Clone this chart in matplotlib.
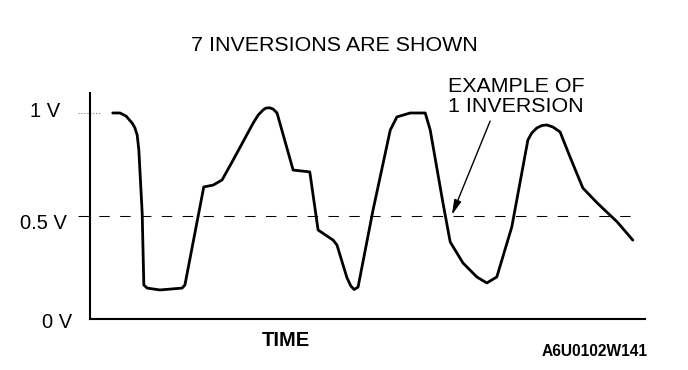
import matplotlib
matplotlib.use("Agg")
import matplotlib.pyplot as plt

# Oxygen sensor trace (time in arbitrary units 0-100, volts)
time = [4.1, 5.4, 6.5, 7.6, 8.1, 8.5, 8.8, 9.4, 9.7, 10.3, 12.6, 16.6, 17.1,
        20.5, 22.2, 23.8, 25.8, 29.4, 30.3, 31.2, 31.7, 32.4, 33.0, 33.7,
        36.6, 39.6, 41.1, 43.8, 44.5, 46.3, 47.0, 47.6, 48.3, 51.0, 54.1,
        55.3, 57.7, 60.4, 61.3, 63.6, 64.9, 67.2, 69.7, 71.5, 73.3, 76.0,
        78.9, 79.6, 80.5, 81.4, 82.3, 83.4, 84.7, 86.5, 88.8, 91.4, 95.0,
        97.8]
volts = [1.0, 1.0, 0.985, 0.951, 0.927, 0.893, 0.820, 0.515, 0.165, 0.150,
         0.141, 0.150, 0.165, 0.641, 0.650, 0.675, 0.772, 0.951, 0.990, 1.015,
         1.024, 1.025, 1.019, 1.0, 0.723, 0.714, 0.432, 0.383, 0.359, 0.200,
         0.160, 0.143, 0.155, 0.529, 0.917, 0.981, 1.0, 1.0, 0.917, 0.563,
         0.374, 0.272, 0.204, 0.175, 0.204, 0.447, 0.869, 0.903, 0.927, 0.939,
         0.942, 0.932, 0.908, 0.786, 0.636, 0.563, 0.471, 0.383]

level_values = [1.0, 0.5, 0.0]
level_labels = ["1 V", "0.5 V", "0 V"]

title_text = "7 INVERSIONS ARE SHOWN"
note_lines = ["EXAMPLE OF", "1 INVERSION"]
arrow_tail = (72.1, 0.961)
arrow_head = (65.2, 0.505)
fig_code = "A6U0102W141"

plt.rcParams['font.family'] = ['Liberation Sans', 'DejaVu Sans']

fig = plt.figure(figsize=(6.88, 3.70), dpi=100)
ax = fig.add_axes([90 / 688, 51 / 370, 555 / 688, 226 / 370])
ax.set_xlim(0, 100)
ax.set_ylim(0, 1.097)

for side in ['top', 'right']:
    ax.spines[side].set_visible(False)
for side in ['left', 'bottom']:
    ax.spines[side].set_linewidth(1.5)
    ax.spines[side].set_color('black')
ax.set_xticks([])
ax.set_yticks([])

# reference lines
ax.plot([-2.2, 99.1], [0.5, 0.5], color='black', lw=0.75,
        linestyle=(0, (10, 10)), clip_on=False)
ax.plot([-2.2, 1.8], [1.0, 1.0], color='gray', lw=0.8,
        linestyle=':', clip_on=False)

# signal
ax.plot(time, volts, color='black', lw=2.0, solid_joinstyle='round',
        solid_capstyle='round')

# level labels on the left
label_x = [-5.4, -4.1, -3.2]
label_y = [0.981, 0.437, -0.044]
for lx, ly, txt in zip(label_x, label_y, level_labels):
    ax.text(lx, ly, txt, ha='right', va='baseline', fontsize=14.5,
            clip_on=False)

ax.text(35.3, -0.131, "TIME", ha='center', va='baseline', fontsize=14.5,
        fontweight='bold', clip_on=False)
ax.text(44.0, 1.301, title_text, ha='center', va='baseline', fontsize=15.4,
        clip_on=False)
ax.text(64.5, 1.102, note_lines[0], ha='left', va='baseline', fontsize=15.4,
        clip_on=False)
ax.text(64.5, 1.005, note_lines[1], ha='left', va='baseline', fontsize=15.4,
        clip_on=False)
ax.text(91.0, -0.180, fig_code, ha='center', va='baseline', fontsize=11.2,
        fontweight='bold', clip_on=False)

ax.annotate("", xy=arrow_head, xytext=arrow_tail,
            arrowprops=dict(arrowstyle='-|>,head_length=0.9,head_width=0.22',
                            color='black', lw=1.0, shrinkA=0, shrinkB=0))

fig.savefig("out.png", dpi=100)
